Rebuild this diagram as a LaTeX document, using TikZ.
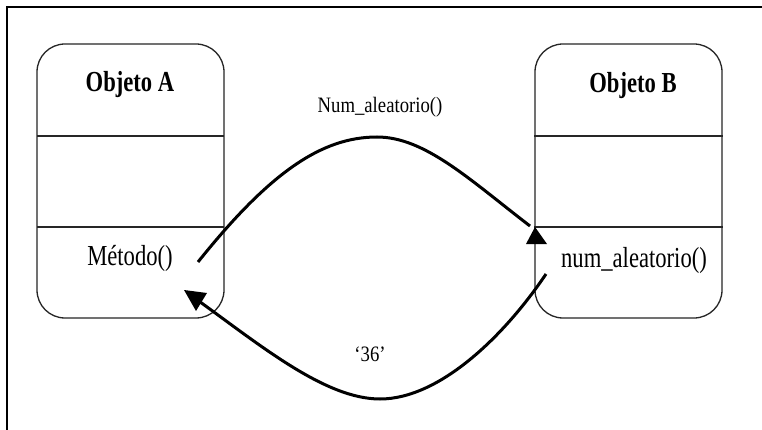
\documentclass[tikz,border=0pt]{standalone}
\usepackage{fontspec}
\setmainfont{Liberation Serif}[FakeStretch=0.78]
\newfontfamily\msgfont{Liberation Serif}[FakeStretch=0.85]
\begin{document}
\begin{tikzpicture}[x=1pt,y=-1pt,
  objbox/.style={draw=black!85,line width=1.3pt,rounded corners=28pt,minimum width=187pt,minimum height=274pt,inner sep=0pt},
  divider/.style={draw=black!85,line width=1.3pt},
  boxtitle/.style={font=\fontsize{29}{29}\selectfont\bfseries,anchor=base,inner sep=0pt},
  boxtext/.style={font=\fontsize{29}{29}\selectfont,anchor=base,inner sep=0pt},
  msg/.style={font=\msgfont\fontsize{22}{22}\selectfont,anchor=base,inner sep=0pt},
  conn/.style={draw=black,line width=3pt},
  tipfill/.style={fill=black}]
\useasboundingbox (0,0) rectangle (762,430);
\fill[white] (0,0) rectangle (762,430);
% frame
\draw[line width=2pt] (7,430) -- (7,7) -- (762,7);
% boxes
\node[objbox] (boxA) at (130.5,181) {};
\node[objbox] (boxB) at (628.5,181) {};
\draw[divider] (37,136) -- (224,136);
\draw[divider] (37,227) -- (224,227);
\draw[divider] (534,136) -- (723,136);
\draw[divider] (534,227) -- (723,227);
% texts
\node[boxtitle] (titA) at (130,92) {Objeto A};
\node[boxtitle] (titB) at (633,93) {Objeto B};
\node[boxtext] (methA) at (130,265) {Método()};
\node[boxtext] (methB) at (634,267) {num\_aleatorio()};
\node[msg] (lblcall) at (380,113) {Num\_aleatorio()};
\node[msg] (lblret) at (370,361) {‘36’};
% connector endpoints
\coordinate (callS) at (198,262);
\coordinate (callE) at (530,226);
\coordinate (retS) at (546,274);
\coordinate (retE) at (196,299);
\draw[conn] (callS) .. controls (270,172) and (322,137) .. (377,137)
  .. controls (425,137) and (470,180) .. (callE);
\draw[conn] (retS) .. controls (505,335) and (440,399) .. (380,399)
  .. controls (325,399) and (260,345) .. (retE);
\fill[tipfill] (535,227) -- (526,244) -- (547,244) -- cycle;
\fill[tipfill] (184,290) -- (207,293) -- (196,311) -- cycle;
\end{tikzpicture}
\end{document}
